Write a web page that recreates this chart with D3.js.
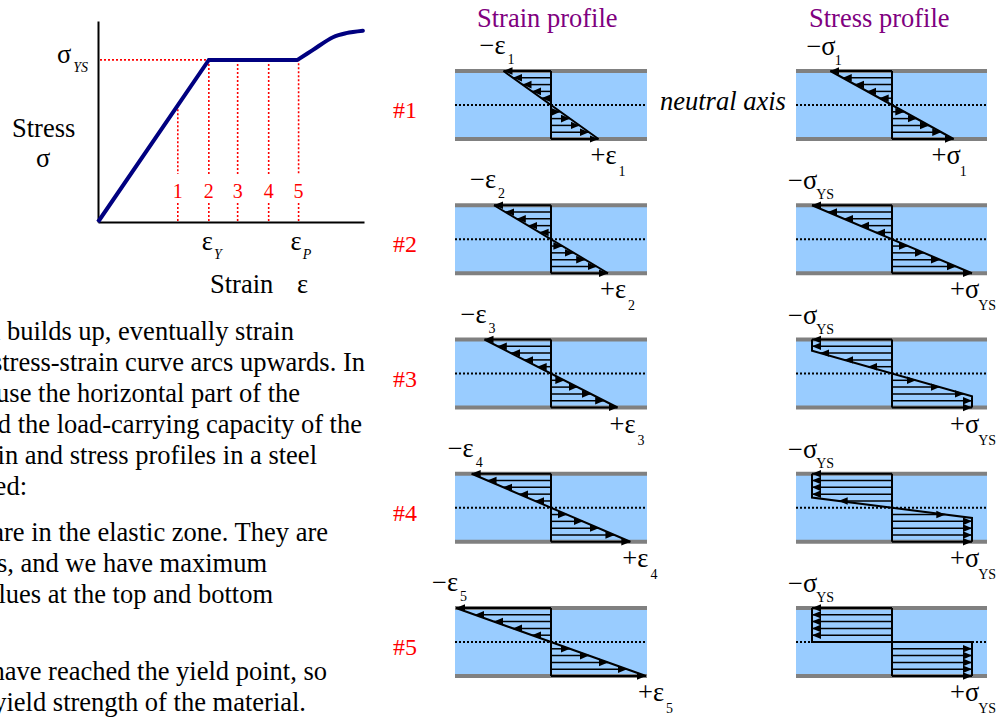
<!DOCTYPE html>
<html><head><meta charset="utf-8">
<script src="https://cdn.jsdelivr.net/npm/d3@7"></script>
<style>
html,body{margin:0;padding:0;background:#fff;overflow:hidden;}
svg{display:block;font-family:"Liberation Serif","Times New Roman",serif;}
</style></head><body>
<svg id="c" width="1001" height="717"></svg>
<script>
// ---------------- data ----------------
// stress-strain curve (strain in units of yield strain, stress in units of yield stress)
const elasticStrain = [0, 1.0, 1.8];
const elasticStress = [0, 1.0, 1.0];
const hardeningStrain = [1.8, 1.94, 2.12, 2.24, 2.39];
const hardeningStress = [1.0, 1.062, 1.14, 1.165, 1.18];
const markStrain = [0.72, 1.0, 1.26, 1.54, 1.81];
const markLabels = ["1", "2", "3", "4", "5"];
const strainTickValues = [1.0, 1.8];
const strainTickSubs = ["Y", "P"];

// profiles
const rowLabels = ["#1", "#2", "#3", "#4", "#5"];
const strainPeak = [1.0, 1.2, 1.4, 1.67, 2.0];
const stressPeak = [0.77, 1, 1, 1, 1];
const elasticCore = [1, 1, 0.67, 0.3, 0];
const strainSubs = ["1", "2", "3", "4", "5"];
const stressSubs = ["1", "YS", "YS", "YS", "YS"];
const hatchFractions = [1, 0.8, 0.6, 0.4, 0.2];

// left text (clipped by the page edge)
const para1 = [
  "As the load builds up, eventually strain",
  "reaches the yield point and the stress-strain curve arcs upwards. In",
  "practice, we use the horizontal part of the",
  "curve to find the load-carrying capacity of the",
  "beam. Below, the strain and stress profiles in a steel",
  "beam are sketched:"
];
const para2 = [
  "#1: The strain and stress are in the elastic zone. They are",
  "linear with the distance from the neutral axis, and we have maximum",
  "values at the top and bottom",
  ""
];
const para3 = [
  "#2: The extreme fibres have reached the yield point, so",
  "their stress equals the yield strength of the material."
];
const paraRight = [[294, 365, 300, 362, 317, 27], [328, 267, 273, 0], [327, 306]];

// ---------------- drawing ----------------
const svg = d3.select("#c");
const FS = 26.5;
const RED = "#ff0000", NAVY = "#000080", PURPLE = "#800080";

const defs = svg.append("defs");
defs.append("marker").attr("id", "arr")
  .attr("viewBox", "0 -5 9 10").attr("refX", 9).attr("refY", 0)
  .attr("markerWidth", 9).attr("markerHeight", 10)
  .attr("markerUnits", "userSpaceOnUse").attr("orient", "auto")
  .append("path").attr("d", "M0,-3.8L9,0L0,3.8Z").attr("fill", "#000");

// ---- stress-strain chart ----
const x = d3.scaleLinear().domain([0, 2.4]).range([98, 364]);
const y = d3.scaleLinear().domain([0, 1.24]).range([222, 21]);
const g = svg.append("g");

g.append("g").attr("transform", `translate(0,${y(0)})`)
  .call(d3.axisBottom(x).tickValues([]).tickSizeOuter(0))
  .call(s => s.select(".domain").attr("stroke", "#000").attr("stroke-width", 2));
g.append("g").attr("transform", `translate(${x(0)},0)`)
  .call(d3.axisLeft(y).tickValues([]).tickSizeOuter(0))
  .call(s => s.select(".domain").attr("stroke", "#000").attr("stroke-width", 2));

const allStrain = elasticStrain.concat(hardeningStrain.slice(1));
const allStress = elasticStress.concat(hardeningStress.slice(1));
function stressAt(e) {
  for (let i = 1; i < allStrain.length; i++) {
    if (e <= allStrain[i]) {
      const t = (e - allStrain[i - 1]) / (allStrain[i] - allStrain[i - 1]);
      return allStress[i - 1] + t * (allStress[i] - allStress[i - 1]);
    }
  }
  return allStress[allStress.length - 1];
}

// yield stress dotted guide
g.append("line").attr("x1", x(0) + 2).attr("x2", x(1)).attr("y1", y(1)).attr("y2", y(1))
  .attr("stroke", RED).attr("stroke-width", 1.6).attr("stroke-dasharray", "2,2");
const markBase = y(0) - 24;
markStrain.forEach((e, i) => {
  const xx = x(e);
  [[y(stressAt(e)), markBase - 24], [markBase + 5, y(0)]].forEach(([a, b]) => {
    g.append("line").attr("x1", xx).attr("x2", xx).attr("y1", a).attr("y2", b)
      .attr("stroke", RED).attr("stroke-width", 1.6).attr("stroke-dasharray", "2,2");
  });
  g.append("text").attr("x", xx).attr("y", markBase).attr("text-anchor", "middle")
    .attr("font-size", 20).attr("fill", RED).text(markLabels[i]);
});

const line = d3.line().x(d => x(d[0])).y(d => y(d[1]));
g.append("path").datum(elasticStrain.map((e, i) => [e, elasticStress[i]]))
  .attr("d", line).attr("fill", "none").attr("stroke", NAVY).attr("stroke-width", 4)
  .attr("stroke-linejoin", "miter");
g.append("path").datum(hardeningStrain.map((e, i) => [e, hardeningStress[i]]))
  .attr("d", line.curve(d3.curveCatmullRom.alpha(0.5))).attr("fill", "none").attr("stroke", NAVY)
  .attr("stroke-width", 4).attr("stroke-linecap", "round");

// axis labels
function subText(parent, xx, yy, main, sub, opts = {}) {
  const t = parent.append("text").attr("x", xx).attr("y", yy)
    .attr("font-size", opts.fs || FS).attr("fill", opts.fill || "#000");
  t.append("tspan").text(main);
  t.append("tspan").attr("dx", opts.dx == null ? 2 : opts.dx).attr("dy", opts.dy || 10)
    .attr("font-size", opts.subfs || 14).attr("font-style", opts.italic ? "italic" : null)
    .text(sub);
  return t;
}
subText(g, 57, y(1) + 3, "σ", "YS", {italic: true, dy: 9, dx: 2});
g.append("text").attr("x", 12).attr("y", 137).attr("font-size", FS).text("Stress");
g.append("text").attr("x", 36).attr("y", 167).attr("font-size", FS).text("σ");
strainTickValues.forEach((v, i) => {
  subText(g, x(v) - 7, 250, "ε", strainTickSubs[i], {italic: true, dy: 9, dx: 1});
});
g.append("text").attr("x", 210).attr("y", 293).attr("font-size", FS).text("Strain");
g.append("text").attr("x", 297).attr("y", 293).attr("font-size", FS).text("ε");

// ---- body text ----
const tg = svg.append("g").attr("font-size", FS);
[[para1, 340], [para2, 541], [para3, 680]].forEach(([lines, y0], p) => {
  lines.forEach((l, i) => {
    if (!l) return;
    tg.append("text").attr("x", paraRight[p][i]).attr("y", y0 + i * 31)
      .attr("text-anchor", "end").text(l);
  });
});

// ---- profiles ----
const rowY = d3.scalePoint().domain(rowLabels).range([105, 642]);
const half = 34;
const strainX = d3.scaleLinear().domain([0, 2]).range([0, 95]);
const stressX = d3.scaleLinear().domain([0, 1]).range([0, 80]);
const panels = [
  {left: 455, right: 647, c: 551, title: "Strain profile", tx: 477},
  {left: 796, right: 987, c: 892, title: "Stress profile", tx: 809}
];

panels.forEach(pn => {
  svg.append("text").attr("x", pn.tx).attr("y", 27).attr("font-size", FS)
    .attr("fill", PURPLE).text(pn.title);
});

rowLabels.forEach((r, i) => {
  const yn = rowY(r), top = yn - half, bot = yn + half;
  svg.append("text").attr("x", 393).attr("y", yn + 13).attr("font-size", 24)
    .attr("fill", RED).text(r);
  panels.forEach(pn => {
    const b = svg.append("g");
    b.append("rect").attr("x", pn.left).attr("y", top).attr("width", pn.right - pn.left)
      .attr("height", bot - top).attr("fill", "#99ccff");
    [top, bot].forEach(yy => b.append("line").attr("x1", pn.left).attr("x2", pn.right)
      .attr("y1", yy).attr("y2", yy).attr("stroke", "#808080").attr("stroke-width", 4));
    b.append("line").attr("x1", pn.left).attr("x2", pn.right).attr("y1", yn).attr("y2", yn)
      .attr("stroke", "#000").attr("stroke-width", 2).attr("stroke-dasharray", "2,2");
  });

  // strain profile
  const c0 = panels[0].c, E = strainPeak[i];
  const sg = svg.append("g");
  hatchFractions.forEach(f => {
    [-1, 1].forEach(d => {
      const yy = yn + d * f * half;
      sg.append("line").attr("x1", c0).attr("x2", c0 + d * strainX(E * f))
        .attr("y1", yy).attr("y2", yy).attr("stroke", "#000")
        .attr("stroke-width", f === 1 ? 2 : 1.5).attr("marker-end", "url(#arr)");
    });
  });
  sg.append("path").attr("d",
    `M${c0},${top}V${bot}M${c0 - strainX(E)},${top}L${c0 + strainX(E)},${bot}`)
    .attr("fill", "none").attr("stroke", "#000").attr("stroke-width", 2);
  subText(svg, c0 - strainX(E) - 24, top - 17, "−ε", strainSubs[i], {dy: 10, dx: 2});
  subText(svg, c0 + strainX(E) - 8, bot + 25, "+ε", strainSubs[i], {dy: 12, dx: 2});

  // stress profile
  const c1 = panels[1].c, S = stressPeak[i], core = elasticCore[i];
  const stg = svg.append("g");
  const sAt = f => S * (core === 0 ? 1 : Math.min(f / core, 1));
  hatchFractions.forEach(f => {
    [-1, 1].forEach(d => {
      const yy = yn + d * f * half;
      stg.append("line").attr("x1", c1).attr("x2", c1 + d * stressX(sAt(f)))
        .attr("y1", yy).attr("y2", yy).attr("stroke", "#000")
        .attr("stroke-width", f === 1 ? 2 : 1.5).attr("marker-end", "url(#arr)");
    });
  });
  const L = c1 - stressX(S), R = c1 + stressX(S);
  stg.append("path").attr("d",
    `M${c1},${top}V${bot}M${L},${top}V${yn - core * half}L${R},${yn + core * half}V${bot}`)
    .attr("fill", "none").attr("stroke", "#000").attr("stroke-width", 2);
  subText(svg, L - 24, top - 16, "−σ", stressSubs[i], {dy: 10, dx: -1});
  subText(svg, R - 22, bot + 25, "+σ", stressSubs[i], {dy: 12, dx: -1});
});

svg.append("text").attr("x", 660).attr("y", rowY(rowLabels[0]) + 5).attr("font-size", FS)
  .attr("font-style", "italic").text("neutral axis");
</script>
</body></html>
